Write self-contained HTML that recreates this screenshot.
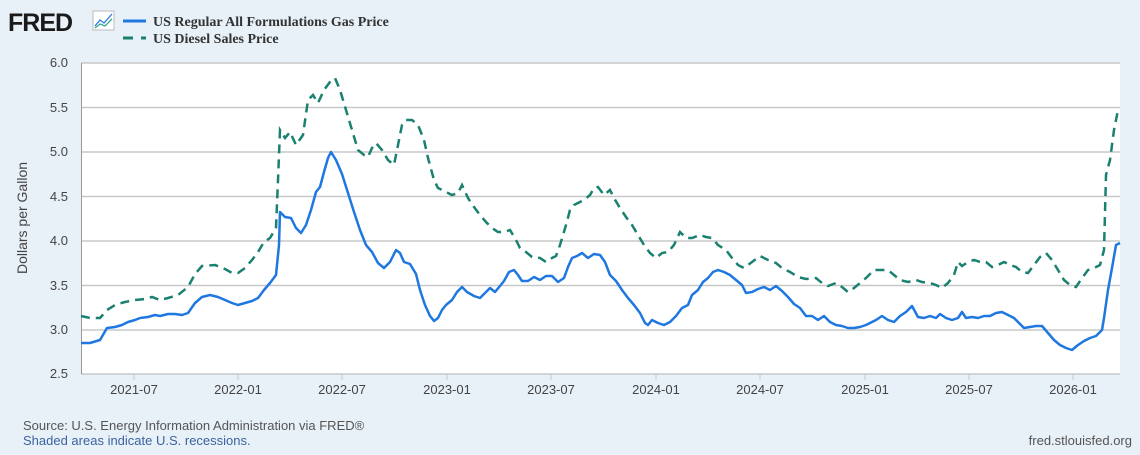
<!DOCTYPE html>
<html><head><style>
body{margin:0;width:1140px;height:450px;background:#e8f0f8;overflow:hidden;font-family:"Liberation Sans",sans-serif}
</style></head><body>
<svg width="1140" height="450" xmlns="http://www.w3.org/2000/svg">
<rect x="0" y="0" width="1140" height="450" fill="#e8f0f8"/>
<text x="8" y="31" font-family="Liberation Sans" font-weight="bold" font-size="25" fill="#1a1a1a" letter-spacing="-1">FRED</text>
<rect x="93" y="11" width="21" height="19" fill="#fff" stroke="#bbb" stroke-width="1"/>
<polyline points="95,26 100,20 104,23 112,14" fill="none" stroke="#2a7be4" stroke-width="1.3"/>
<polyline points="95,28 100,24 105,26 112,19" fill="none" stroke="#3aaa8a" stroke-width="1.3"/>
<line x1="123" y1="21" x2="146" y2="21" stroke="#1f77e0" stroke-width="3"/>
<line x1="123" y1="38" x2="133" y2="38" stroke="#1a8070" stroke-width="3"/>
<line x1="141" y1="38" x2="146" y2="38" stroke="#1a8070" stroke-width="3"/>
<text x="153" y="26" font-family="Liberation Serif" font-weight="bold" font-size="14" fill="#333">US Regular All Formulations Gas Price</text>
<text x="153" y="43" font-family="Liberation Serif" font-weight="bold" font-size="14" fill="#333">US Diesel Sales Price</text>
<rect x="81" y="63" width="1039" height="311" fill="#fff"/>
<g stroke="#c8c8c8" stroke-width="1.5">
<line x1="81" y1="63" x2="1120" y2="63"/><line x1="81" y1="107.5" x2="1120" y2="107.5"/>
<line x1="81" y1="152" x2="1120" y2="152"/><line x1="81" y1="196.5" x2="1120" y2="196.5"/>
<line x1="81" y1="241" x2="1120" y2="241"/><line x1="81" y1="285.5" x2="1120" y2="285.5"/>
<line x1="81" y1="330" x2="1120" y2="330"/><line x1="81" y1="374" x2="1120" y2="374"/>
</g>
<line x1="81.5" y1="63" x2="81.5" y2="374" stroke="#999" stroke-width="1"/>
<g stroke="#c8c8c8" stroke-width="1">
<line x1="134" y1="374" x2="134" y2="380"/><line x1="238" y1="374" x2="238" y2="380"/><line x1="342" y1="374" x2="342" y2="380"/><line x1="447" y1="374" x2="447" y2="380"/><line x1="551" y1="374" x2="551" y2="380"/><line x1="656" y1="374" x2="656" y2="380"/><line x1="760" y1="374" x2="760" y2="380"/><line x1="865" y1="374" x2="865" y2="380"/><line x1="969" y1="374" x2="969" y2="380"/><line x1="1073" y1="374" x2="1073" y2="380"/>
</g>
<g font-size="13" fill="#444" text-anchor="end">
<text x="68" y="67">6.0</text><text x="68" y="112">5.5</text><text x="68" y="156">5.0</text><text x="68" y="201">4.5</text><text x="68" y="245">4.0</text><text x="68" y="290">3.5</text><text x="68" y="334">3.0</text><text x="68" y="378">2.5</text>
</g>
<g font-size="13" fill="#444" text-anchor="middle">
<text x="134" y="394">2021-07</text><text x="238" y="394">2022-01</text><text x="342" y="394">2022-07</text><text x="447" y="394">2023-01</text><text x="551" y="394">2023-07</text><text x="656" y="394">2024-01</text><text x="760" y="394">2024-07</text><text x="865" y="394">2025-01</text><text x="969" y="394">2025-07</text><text x="1073" y="394">2026-01</text>
</g>
<text transform="translate(27,218) rotate(-90)" font-size="14" fill="#444" text-anchor="middle">Dollars per Gallon</text>
<polyline fill="none" stroke="#1a8070" stroke-width="2.5" stroke-dasharray="9,6" points="81,316 90,318 100,318 107,310 115,305 125,302 135,300 145,299 152,297 160,300 168,298 178,295 188,287 195,274 202,266 215,265 225,269 232,273 238,273 245,268 252,260 258,252 264,242 270,238 276,228 278,180 280,130 285,138 290,132 296,145 303,135 308,100 313,95 318,103 324,90 330,82 335,78 340,90 346,110 352,130 358,150 364,155 368,157 372,148 376,143 382,150 388,160 394,165 398,145 402,125 406,120 412,120 418,125 424,140 428,158 434,180 438,188 446,192 452,195 458,193 462,185 468,198 474,207 480,215 486,222 492,228 498,232 504,232 510,230 516,240 520,248 526,252 532,257 540,258 546,262 552,258 556,256 560,245 566,225 570,210 574,205 578,203 584,200 590,195 594,188 598,187 604,195 610,190 614,198 620,208 626,217 632,225 638,235 644,245 650,253 656,258 662,253 668,252 674,245 680,232 686,238 692,238 700,235 706,237 712,238 718,245 726,250 732,258 738,265 744,268 752,262 760,256 768,260 776,263 782,268 790,272 798,277 806,279 816,278 822,283 828,286 836,283 842,287 848,292 854,288 860,283 866,278 874,270 880,270 888,270 894,275 900,280 908,282 916,280 922,282 930,283 936,285 942,288 948,283 954,275 958,262 962,266 968,262 974,260 980,262 986,262 992,267 998,265 1004,262 1010,265 1016,267 1022,272 1028,273 1034,265 1040,257 1046,253 1052,260 1058,270 1064,280 1070,285 1076,287 1082,278 1088,270 1094,268 1100,265 1104,250 1106,175 1110,160 1114,130 1118,110"/>
<polyline fill="none" stroke="#1f77e0" stroke-width="2.5" stroke-linejoin="round" points="81,343 90,343 100,340 107,328 115,327 122,325 128,322 135,320 140,318 148,317 155,315 160,316 168,314 175,314 182,315 188,313 195,303 202,297 210,295 218,297 225,300 232,303 238,305 245,303 252,301 258,298 264,290 270,283 276,275 279,245 280,212 285,217 291,218 296,228 301,233 306,225 311,210 316,192 320,187 324,172 328,158 331,152 336,160 342,174 348,193 354,212 360,230 366,245 372,252 378,263 384,268 390,262 396,250 400,253 404,262 410,264 416,274 420,290 425,305 430,316 434,321 438,318 442,310 446,305 452,300 457,292 462,287 467,292 474,296 480,298 486,292 490,288 495,292 500,286 504,281 509,272 514,270 518,275 522,281 528,281 534,277 540,280 546,276 552,276 558,282 564,278 568,267 572,258 577,256 582,253 588,258 594,254 600,255 605,262 610,275 616,281 622,290 628,298 634,305 640,313 645,323 648,325 652,320 658,323 664,325 670,322 676,316 682,308 688,305 692,295 698,290 703,282 708,278 713,272 718,270 724,272 730,275 736,280 742,285 746,293 752,292 758,289 764,287 770,290 776,286 782,291 788,297 794,304 800,308 806,316 812,316 818,320 824,316 830,322 836,325 842,326 848,328 854,328 860,327 866,325 870,323 876,320 882,316 888,320 894,322 900,316 906,312 912,306 918,317 924,318 930,316 936,318 940,314 946,318 952,320 958,318 962,312 966,318 972,317 978,318 984,316 990,316 996,313 1002,312 1008,315 1014,318 1018,322 1024,328 1030,327 1036,326 1042,326 1048,333 1054,340 1060,345 1066,348 1072,350 1078,345 1084,341 1090,338 1096,336 1102,330 1104,318 1108,290 1112,268 1116,245 1120,243"/>
<text x="23" y="430" font-size="13" fill="#555">Source: U.S. Energy Information Administration via FRED®</text>
<text x="23" y="445" font-size="13" fill="#3b63a0">Shaded areas indicate U.S. recessions.</text>
<text x="1132" y="445" font-size="13" fill="#555" text-anchor="end">fred.stlouisfed.org</text>
</svg>
</body></html>
